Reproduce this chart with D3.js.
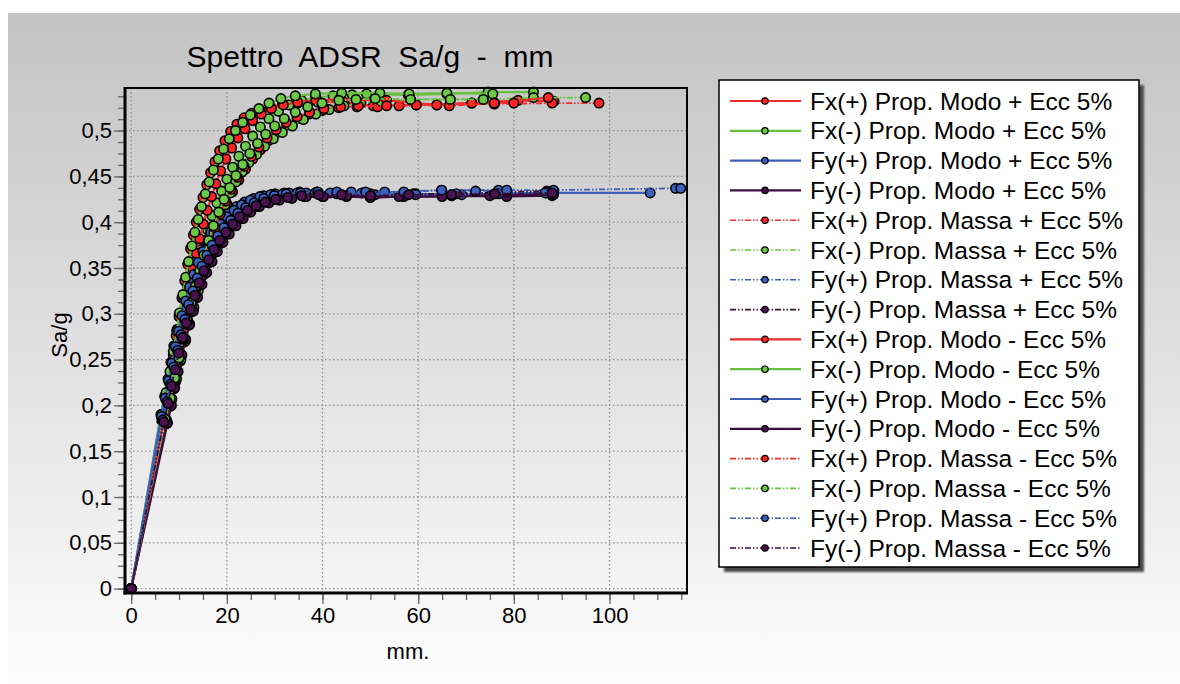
<!DOCTYPE html>
<html>
<head>
<meta charset="utf-8">
<script src="https://cdn.jsdelivr.net/npm/d3@7"></script>
<style>
  body { margin: 0; background: #fff; }
  svg { display: block; font-family: "Liberation Sans", Arial, Helvetica, sans-serif; }
</style>
</head>
<body>
<div id="chart"></div>
<script>
// ---- data (mm, Sa/g) ----
const seriesNames = [
  'Fx(+) Prop. Modo + Ecc 5%', 'Fx(-) Prop. Modo + Ecc 5%',
  'Fy(+) Prop. Modo + Ecc 5%', 'Fy(-) Prop. Modo + Ecc 5%',
  'Fx(+) Prop. Massa + Ecc 5%', 'Fx(-) Prop. Massa + Ecc 5%',
  'Fy(+) Prop. Massa + Ecc 5%', 'Fy(-) Prop. Massa + Ecc 5%',
  'Fx(+) Prop. Modo - Ecc 5%', 'Fx(-) Prop. Modo - Ecc 5%',
  'Fy(+) Prop. Modo - Ecc 5%', 'Fy(-) Prop. Modo - Ecc 5%',
  'Fx(+) Prop. Massa - Ecc 5%', 'Fx(-) Prop. Massa - Ecc 5%',
  'Fy(+) Prop. Massa - Ecc 5%', 'Fy(-) Prop. Massa - Ecc 5%'
];

const fxPosModoPlus = [[0,0],[6.6,0.188],[7.5,0.212],[8.2,0.234],[8.8,0.255],[9.4,0.276],[10.0,0.297],[10.6,0.317],[11.2,0.336],[11.8,0.354],[12.4,0.371],[13.0,0.386],[13.6,0.400],[14.3,0.414],[15.0,0.427],[15.8,0.441],[16.6,0.454],[17.5,0.466],[18.5,0.478],[19.6,0.489],[20.8,0.499],[22.1,0.507],[23.6,0.514],[25.2,0.519],[27.0,0.523],[29.1,0.526],[31.6,0.529],[34.8,0.530],[39.0,0.531],[44.5,0.531],[50.6,0.527],[59.6,0.528],[71.2,0.530],[80.9,0.533],[88.4,0.532]];
const fxNegModoPlus = [[0,0],[6.4,0.183],[7.6,0.206],[8.5,0.228],[9.3,0.250],[10.1,0.271],[10.9,0.291],[11.7,0.310],[12.5,0.328],[13.3,0.345],[14.1,0.361],[15.0,0.377],[15.9,0.392],[16.9,0.407],[17.9,0.421],[18.9,0.434],[20.0,0.447],[21.2,0.460],[22.5,0.472],[23.9,0.483],[25.4,0.494],[27.0,0.504],[28.8,0.513],[30.8,0.521],[33.0,0.528],[35.6,0.533],[38.6,0.536],[42.2,0.538],[46.2,0.539],[49.2,0.540],[57.9,0.539],[66.0,0.540],[74.6,0.542],[84.1,0.542]];
const fyPosModoPlus = [[0,0],[6.2,0.190],[7.0,0.210],[7.7,0.229],[8.3,0.247],[8.9,0.265],[9.6,0.283],[10.3,0.300],[11.0,0.316],[11.8,0.331],[12.6,0.345],[13.5,0.358],[14.5,0.370],[15.5,0.380],[16.6,0.389],[17.8,0.397],[19.1,0.404],[20.5,0.411],[22.0,0.417],[23.7,0.422],[25.6,0.426],[27.7,0.429],[30.1,0.431],[33.0,0.432],[36.6,0.432],[41.6,0.432],[48.2,0.432],[59.5,0.431],[69.1,0.430],[78.5,0.431],[86.9,0.432],[108.5,0.432]];
const fyNegModoPlus = [[0,0],[7.4,0.180],[8.2,0.199],[8.9,0.218],[9.6,0.236],[10.3,0.254],[11.0,0.271],[11.8,0.287],[12.6,0.302],[13.5,0.317],[14.4,0.331],[15.4,0.344],[16.4,0.356],[17.5,0.367],[18.7,0.377],[20.0,0.387],[21.4,0.396],[22.9,0.404],[24.5,0.411],[26.3,0.417],[28.3,0.422],[30.6,0.425],[33.2,0.427],[36.2,0.428],[40.0,0.428],[45.0,0.428],[50.0,0.427],[57.0,0.428],[67.0,0.429],[78.5,0.428],[88.0,0.429]];
const fxPosMassaPlus = [[0,0],[7.2,0.180],[8.3,0.203],[9.3,0.226],[10.2,0.248],[11.0,0.269],[11.9,0.289],[12.8,0.308],[13.7,0.326],[14.7,0.343],[15.7,0.359],[16.7,0.375],[17.8,0.391],[18.9,0.406],[20.0,0.420],[21.2,0.433],[22.5,0.446],[23.9,0.458],[25.4,0.469],[27.0,0.479],[28.7,0.489],[30.5,0.498],[32.5,0.506],[34.7,0.513],[37.2,0.518],[40.0,0.522],[43.4,0.525],[47.2,0.526],[51.5,0.526],[56.0,0.527],[63.9,0.528],[75.9,0.529],[88.0,0.530],[97.8,0.530]];
const fxNegMassaPlus = [[0,0],[7.4,0.184],[8.5,0.207],[9.5,0.229],[10.4,0.250],[11.3,0.270],[12.2,0.289],[13.1,0.307],[14.0,0.325],[15.0,0.342],[15.9,0.358],[16.8,0.374],[17.7,0.390],[18.6,0.405],[19.6,0.419],[20.7,0.432],[21.9,0.444],[23.2,0.455],[24.6,0.465],[26.2,0.474],[27.9,0.483],[29.7,0.491],[31.6,0.498],[33.7,0.505],[36.0,0.512],[38.6,0.518],[41.4,0.523],[44.5,0.527],[48.0,0.530],[52.2,0.532],[58.4,0.534],[66.7,0.534],[73.6,0.534],[84.1,0.536],[95.0,0.536]];
const fyPosMassaPlus = [[0,0],[6.5,0.186],[7.3,0.206],[8.0,0.225],[8.7,0.244],[9.3,0.262],[10.0,0.280],[10.7,0.297],[11.5,0.313],[12.3,0.328],[13.2,0.342],[14.1,0.355],[15.1,0.367],[16.2,0.378],[17.4,0.388],[18.7,0.397],[20.1,0.405],[21.6,0.412],[23.3,0.418],[25.1,0.423],[27.1,0.427],[29.4,0.430],[32.0,0.432],[35.2,0.433],[38.8,0.433],[46.0,0.433],[53.0,0.433],[64.9,0.435],[76.8,0.435],[88.3,0.435],[113.8,0.437],[114.9,0.437]];
const fyNegMassaPlus = [[0,0],[7.2,0.183],[8.0,0.202],[8.7,0.221],[9.4,0.240],[10.1,0.258],[10.9,0.275],[11.7,0.291],[12.5,0.306],[13.4,0.321],[14.3,0.335],[15.3,0.348],[16.3,0.360],[17.4,0.371],[18.6,0.381],[19.9,0.390],[21.3,0.398],[22.8,0.406],[24.4,0.413],[26.2,0.418],[28.2,0.422],[30.4,0.425],[32.9,0.427],[35.8,0.429],[39.5,0.430],[44.0,0.430],[51.0,0.430],[59.0,0.431],[68.0,0.431],[78.5,0.433],[86.9,0.434]];
const fxPosModoMinus = [[0,0],[6.9,0.186],[7.9,0.209],[8.7,0.231],[9.4,0.252],[10.1,0.273],[10.8,0.293],[11.5,0.312],[12.2,0.331],[12.9,0.349],[13.6,0.366],[14.3,0.382],[15.1,0.398],[15.9,0.413],[16.8,0.428],[17.7,0.442],[18.7,0.456],[19.8,0.469],[21.0,0.481],[22.3,0.492],[23.8,0.502],[25.4,0.511],[27.2,0.518],[29.3,0.524],[31.8,0.528],[34.8,0.531],[38.6,0.533],[43.5,0.534],[53.4,0.533],[63.9,0.528],[71.2,0.530],[76.0,0.530],[87.2,0.536]];
const fxNegModoMinus = [[0,0],[6.3,0.190],[7.3,0.214],[8.1,0.237],[8.8,0.259],[9.5,0.281],[10.1,0.301],[10.8,0.321],[11.4,0.340],[12.0,0.357],[12.7,0.374],[13.3,0.389],[14.0,0.403],[14.7,0.417],[15.5,0.431],[16.3,0.444],[17.2,0.457],[18.2,0.469],[19.3,0.480],[20.5,0.491],[21.8,0.500],[23.3,0.509],[24.9,0.517],[26.7,0.524],[28.8,0.530],[31.3,0.535],[34.3,0.538],[38.5,0.540],[44.0,0.541],[52.0,0.541],[58.1,0.540],[66.0,0.541],[75.6,0.540]];
const fyPosModoMinus = [[0,0],[6.3,0.188],[7.1,0.208],[7.8,0.227],[8.5,0.246],[9.2,0.264],[9.9,0.281],[10.6,0.298],[11.4,0.314],[12.2,0.329],[13.1,0.343],[14.0,0.356],[15.0,0.368],[16.1,0.379],[17.3,0.389],[18.6,0.398],[20.0,0.406],[21.5,0.413],[23.1,0.419],[24.9,0.424],[26.9,0.428],[29.1,0.430],[31.7,0.431],[34.7,0.432],[38.5,0.432],[43.0,0.431],[50.0,0.431],[59.5,0.430],[67.0,0.429],[76.8,0.431],[86.5,0.432]];
const fyNegModoMinus = [[0,0],[7.6,0.181],[8.4,0.200],[9.1,0.219],[9.8,0.237],[10.6,0.255],[11.4,0.272],[12.2,0.288],[13.0,0.303],[13.9,0.318],[14.8,0.332],[15.8,0.345],[16.9,0.357],[18.0,0.368],[19.2,0.378],[20.5,0.387],[21.9,0.396],[23.4,0.404],[25.0,0.411],[26.8,0.417],[28.8,0.421],[31.0,0.424],[33.6,0.426],[36.6,0.428],[40.2,0.428],[45.0,0.429],[50.0,0.427],[56.0,0.428],[65.0,0.428],[75.0,0.429],[88.3,0.430]];
const fxPosMassaMinus = [[0,0],[7.0,0.183],[8.1,0.206],[9.1,0.229],[10.0,0.251],[10.9,0.272],[11.8,0.292],[12.7,0.311],[13.6,0.329],[14.5,0.346],[15.5,0.362],[16.5,0.378],[17.5,0.394],[18.6,0.409],[19.7,0.423],[20.9,0.436],[22.2,0.449],[23.6,0.461],[25.1,0.472],[26.7,0.482],[28.4,0.492],[30.3,0.501],[32.4,0.509],[34.7,0.515],[37.3,0.520],[40.3,0.524],[43.8,0.526],[47.5,0.527],[53.4,0.527],[59.6,0.528],[66.5,0.527],[75.9,0.530],[80.0,0.530]];
const fxNegMassaMinus = [[0,0],[7.1,0.185],[8.2,0.208],[9.1,0.230],[10.0,0.252],[10.8,0.273],[11.7,0.293],[12.5,0.312],[13.4,0.330],[14.3,0.347],[15.2,0.364],[16.2,0.380],[17.2,0.396],[18.3,0.411],[19.4,0.425],[20.6,0.438],[21.9,0.451],[23.3,0.463],[24.8,0.475],[26.4,0.486],[28.1,0.496],[30.0,0.505],[32.0,0.513],[34.3,0.520],[36.9,0.526],[39.9,0.530],[43.4,0.533],[47.0,0.534],[51.0,0.535],[58.4,0.534],[66.7,0.534],[73.6,0.534]];
const fyPosMassaMinus = [[0,0],[6.6,0.184],[7.5,0.204],[8.2,0.223],[8.9,0.242],[9.7,0.260],[10.4,0.277],[11.2,0.294],[12.0,0.310],[12.9,0.325],[13.8,0.339],[14.8,0.352],[15.8,0.364],[16.9,0.375],[18.1,0.385],[19.4,0.394],[20.8,0.402],[22.3,0.410],[23.9,0.416],[25.7,0.421],[27.7,0.426],[29.9,0.429],[32.4,0.431],[35.4,0.432],[39.0,0.433],[43.0,0.433],[49.0,0.433],[57.0,0.433],[64.9,0.435],[72.0,0.434],[78.5,0.435]];
const fyNegMassaMinus = [[0,0],[6.8,0.182],[7.7,0.202],[8.4,0.221],[9.2,0.239],[9.9,0.257],[10.7,0.274],[11.5,0.290],[12.4,0.305],[13.3,0.320],[14.2,0.334],[15.2,0.347],[16.2,0.359],[17.3,0.370],[18.5,0.380],[19.8,0.389],[21.2,0.398],[22.7,0.406],[24.3,0.413],[26.1,0.418],[28.0,0.422],[30.2,0.425],[32.7,0.427],[35.6,0.429],[39.2,0.430],[44.0,0.430],[50.0,0.429],[58.0,0.430],[67.0,0.430],[76.0,0.431],[88.0,0.432]];

const seriesValues = [
  fxPosModoPlus, fxNegModoPlus, fyPosModoPlus, fyNegModoPlus,
  fxPosMassaPlus, fxNegMassaPlus, fyPosMassaPlus, fyNegMassaPlus,
  fxPosModoMinus, fxNegModoMinus, fyPosModoMinus, fyNegModoMinus,
  fxPosMassaMinus, fxNegMassaMinus, fyPosMassaMinus, fyNegMassaMinus
];

const xTicks = [0, 20, 40, 60, 80, 100];
const yTicks = [0, 0.05, 0.1, 0.15, 0.2, 0.25, 0.3, 0.35, 0.4, 0.45, 0.5];

// ---- layout ----
const W = 1180, H = 684;
const plot = {left: 125, right: 687, top: 88, bottom: 593};

// direction -> colours (line, marker fill)
const palette = {
  'Fx(+)': {line: '#f22b2b', fill: '#ff2424'},
  'Fx(-)': {line: '#66c23e', fill: '#6cc846'},
  'Fy(+)': {line: '#3c5fb8', fill: '#3c62c0'},
  'Fy(-)': {line: '#3a0d3e', fill: '#4a124e'}
};
const dashMassa = '6,2,1.5,2,1.5,2';

const it = d3.formatLocale({decimal: ',', thousands: '.', grouping: [3], currency: ['', '€']});
const fmtY = it.format('~g');

const svg = d3.select('#chart').append('svg')
    .attr('width', W)
    .attr('height', H);

const defs = svg.append('defs');
const grad = defs.append('linearGradient')
    .attr('id', 'bg').attr('x1', 0).attr('y1', 0).attr('x2', 0).attr('y2', 1);
grad.append('stop').attr('offset', '0%').attr('stop-color', '#c3c3c3');
grad.append('stop').attr('offset', '100%').attr('stop-color', '#fdfdfd');

defs.append('filter').attr('id', 'blur')
  .append('feGaussianBlur').attr('stdDeviation', 1.2);

defs.append('clipPath').attr('id', 'plotClip')
  .append('rect')
    .attr('x', plot.left).attr('y', plot.top - 6)
    .attr('width', plot.right - plot.left + 6)
    .attr('height', plot.bottom - plot.top + 6);

// grey panel
svg.append('rect')
    .attr('x', 8).attr('y', 13)
    .attr('width', W - 8).attr('height', H - 13)
    .attr('fill', 'url(#bg)');

// scales
const x = d3.scaleLinear().domain([-1.3, 116.2]).range([plot.left, plot.right]);
const y = d3.scaleLinear().domain([-0.0048, 0.5465]).range([plot.bottom, plot.top]);

// grid
const grid = svg.append('g')
    .attr('stroke', '#8f8f8f')
    .attr('stroke-width', 1.3)
    .attr('stroke-dasharray', '1.5,2.5');
grid.selectAll('.gx').data(xTicks).join('line')
    .attr('x1', d => x(d)).attr('x2', d => x(d))
    .attr('y1', plot.top).attr('y2', plot.bottom);
grid.selectAll('.gy').data(yTicks).join('line')
    .attr('y1', d => y(d)).attr('y2', d => y(d))
    .attr('x1', plot.left).attr('x2', plot.right);

// minor + major ticks
const yMinor = d3.range(0, 0.5465, 0.0125);
const xMinor = d3.range(0, 116.2, 5);

svg.append('g')
    .attr('transform', `translate(${plot.left},0)`)
    .call(d3.axisLeft(y).tickValues(yMinor).tickSize(7).tickFormat(''))
    .call(g => g.select('.domain').remove())
    .call(g => g.selectAll('line').attr('stroke', '#666').attr('stroke-width', 1.3));

svg.append('g')
    .attr('transform', `translate(0,${plot.bottom})`)
    .call(d3.axisBottom(x).tickValues(xMinor).tickSize(7).tickFormat(''))
    .call(g => g.select('.domain').remove())
    .call(g => g.selectAll('line').attr('stroke', '#666').attr('stroke-width', 1.3));

svg.append('g')
    .attr('transform', `translate(${plot.left},0)`)
    .call(d3.axisLeft(y).tickValues(yTicks).tickSize(11).tickPadding(2).tickFormat(fmtY))
    .call(g => g.select('.domain').remove())
    .call(g => g.selectAll('line').attr('stroke', '#666').attr('stroke-width', 1.3))
    .call(g => g.selectAll('text').attr('fill', '#000').attr('font-size', 22)
        .attr('font-family', '"Liberation Sans", Arial, sans-serif'));

svg.append('g')
    .attr('transform', `translate(0,${plot.bottom})`)
    .call(d3.axisBottom(x).tickValues(xTicks).tickSize(11).tickPadding(3).tickFormat(d => d))
    .call(g => g.select('.domain').remove())
    .call(g => g.selectAll('line').attr('stroke', '#666').attr('stroke-width', 1.3))
    .call(g => g.selectAll('text').attr('fill', '#000').attr('font-size', 22)
        .attr('font-family', '"Liberation Sans", Arial, sans-serif'));

// series: line then markers, in legend order
const line = d3.line().x(d => x(d[0])).y(d => y(d[1]));
const marks = svg.append('g').attr('clip-path', 'url(#plotClip)');

seriesValues.forEach((vals, i) => {
  const name = seriesNames[i];
  const col = palette[name.slice(0, 5)];
  const massa = name.includes('Massa');
  marks.append('path')
      .datum(vals)
      .attr('fill', 'none')
      .attr('stroke', col.line)
      .attr('stroke-width', massa ? 1.8 : 2.2)
      .attr('stroke-dasharray', massa ? dashMassa : null)
      .attr('d', line);
  marks.append('g').selectAll('circle')
    .data(vals)
    .join('circle')
      .attr('cx', d => x(d[0]))
      .attr('cy', d => y(d[1]))
      .attr('r', 4.7)
      .attr('fill', col.fill)
      .attr('stroke', '#000')
      .attr('stroke-width', 1.6);
});

// frame: heavy left/bottom axis, thinner top/right
svg.append('line').attr('x1', plot.left).attr('x2', plot.right + 1)
    .attr('y1', plot.top).attr('y2', plot.top).attr('stroke', '#000').attr('stroke-width', 2);
svg.append('line').attr('x1', plot.right).attr('x2', plot.right)
    .attr('y1', plot.top).attr('y2', plot.bottom).attr('stroke', '#000').attr('stroke-width', 2);
svg.append('line').attr('x1', plot.left).attr('x2', plot.left)
    .attr('y1', plot.top - 1).attr('y2', plot.bottom + 1.5).attr('stroke', '#000').attr('stroke-width', 3);
svg.append('line').attr('x1', plot.left - 1.5).attr('x2', plot.right + 1)
    .attr('y1', plot.bottom).attr('y2', plot.bottom).attr('stroke', '#000').attr('stroke-width', 3);

// titles
svg.append('text')
    .attr('x', 370).attr('y', 67)
    .attr('text-anchor', 'middle')
    .attr('font-size', 30)
    .style('white-space', 'pre')
    .text('Spettro  ADSR  Sa/g  -  mm');

svg.append('text')
    .attr('x', 408).attr('y', 659)
    .attr('text-anchor', 'middle')
    .attr('font-size', 22)
    .text('mm.');

svg.append('text')
    .attr('transform', 'translate(67,335) rotate(-90)')
    .attr('text-anchor', 'middle')
    .attr('font-size', 22)
    .text('Sa/g');

// legend
const lg = {x: 719, y: 80, w: 420, h: 487, row0: 101, step: 29.8};
svg.append('rect')
    .attr('x', lg.x + 5).attr('y', lg.y + 5)
    .attr('width', lg.w).attr('height', lg.h)
    .attr('fill', '#4a4a4a')
    .attr('filter', 'url(#blur)');
svg.append('rect')
    .attr('x', lg.x).attr('y', lg.y)
    .attr('width', lg.w).attr('height', lg.h)
    .attr('fill', '#fff')
    .attr('stroke', '#000')
    .attr('stroke-width', 1.5);

const rows = svg.append('g').selectAll('g')
  .data(seriesNames)
  .join('g')
    .attr('transform', (d, i) => `translate(0,${lg.row0 + i * lg.step})`);

rows.append('line')
    .attr('x1', 730).attr('x2', 801)
    .attr('stroke', d => palette[d.slice(0, 5)].line)
    .attr('stroke-width', d => d.includes('Massa') ? 1.6 : 2.2)
    .attr('stroke-dasharray', d => d.includes('Massa') ? dashMassa : null);
rows.append('circle')
    .attr('cx', 765).attr('r', 3.2)
    .attr('fill', d => palette[d.slice(0, 5)].fill)
    .attr('stroke', '#000')
    .attr('stroke-width', 1.2);
rows.append('text')
    .attr('x', 810).attr('y', 8.5)
    .attr('font-size', 24.5)
    .text(d => d);
</script>
</body>
</html>
